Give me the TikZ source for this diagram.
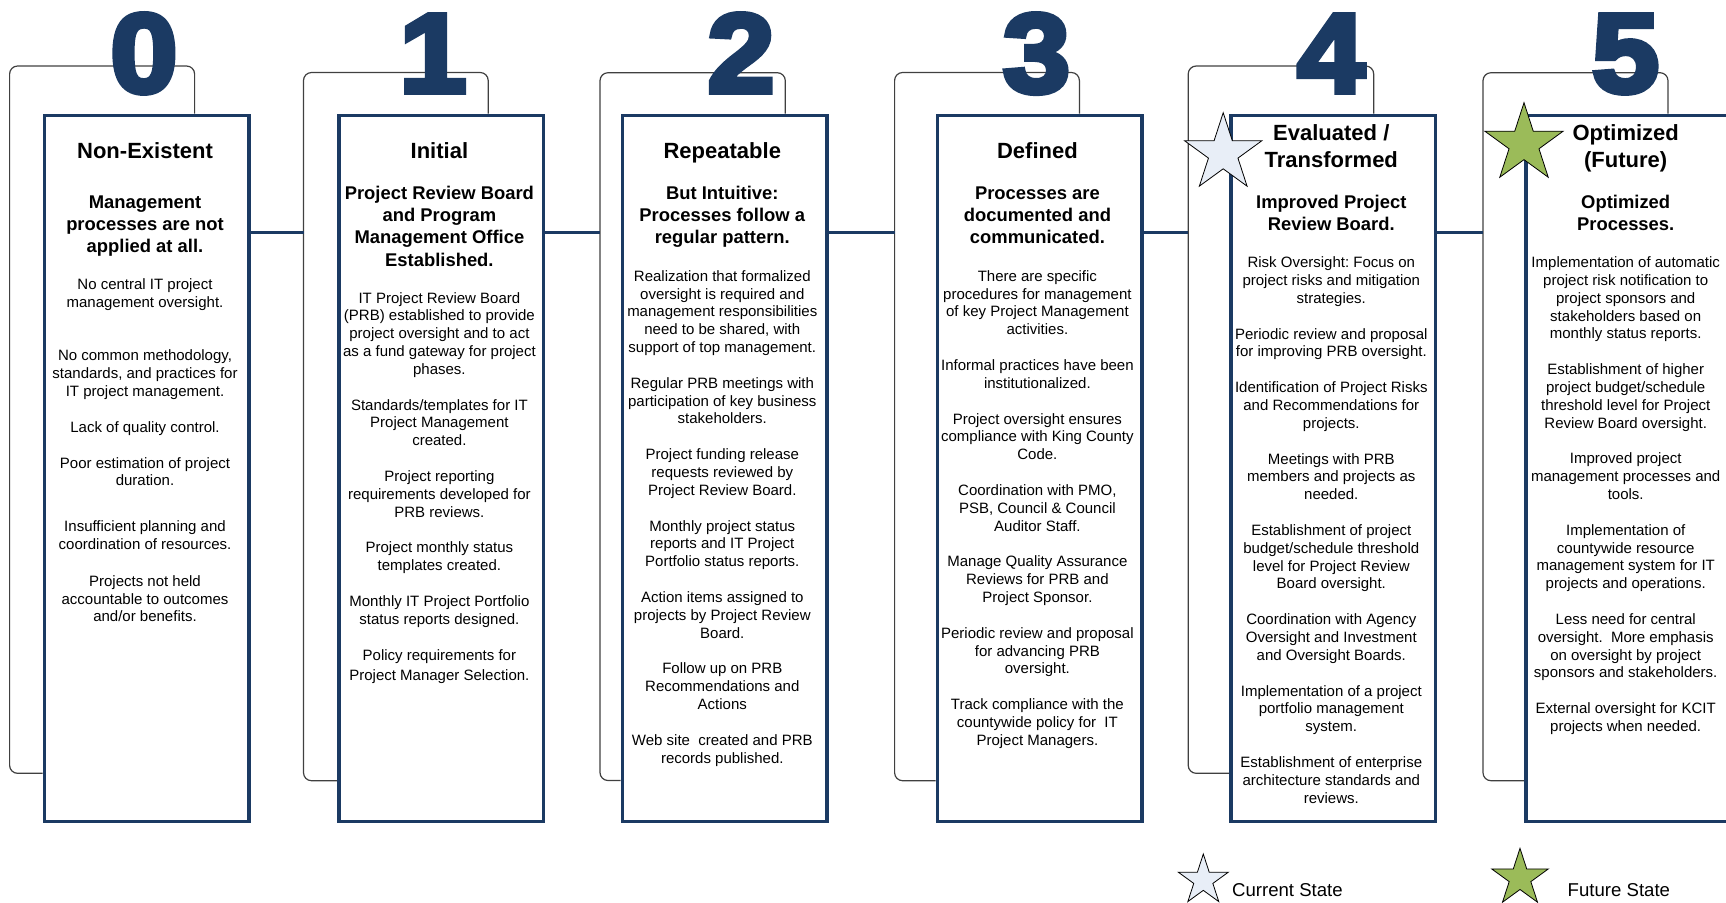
\documentclass[tikz,border=0pt]{standalone}
\usepackage{fontspec}
\setmainfont{Liberation Sans}
\newfontfamily\digitfont[FakeBold=5,FakeStretch=1.08]{Liberation Sans}
\usetikzlibrary{shapes.geometric}
\frenchspacing

\definecolor{navy}{RGB}{27,58,99}
\definecolor{starblue}{RGB}{232,238,247}
\definecolor{stargreen}{RGB}{155,187,89}
\definecolor{bracketgray}{RGB}{64,64,64}

\begin{document}
\begin{tikzpicture}[x=0.5pt,y=-0.5pt]

    % Styles
    \tikzstyle{stagebox} = [rectangle, anchor=north west, inner sep=0pt, minimum width=102.4pt, minimum height=353.2pt, draw=navy, line width=1.65pt, fill=white]
    \tikzstyle{bracket} = [draw=bracketgray, line width=0.6pt, rounded corners=4pt]
    \tikzstyle{link} = [draw=navy, line width=1.65pt]
    \tikzstyle{levelnum} = [anchor=base, inner sep=0pt, text=navy, font=\digitfont\bfseries\fontsize{56}{56}\selectfont]
    \tikzstyle{stagetitle} = [anchor=north, align=center, inner sep=0pt, font=\bfseries\fontsize{11}{13.5}\selectfont]
    \tikzstyle{stagesub} = [anchor=north, align=center, inner sep=0pt, font=\bfseries\fontsize{9.2}{11.2}\selectfont]
    \tikzstyle{stagetext} = [anchor=north, align=center, inner sep=0pt, font=\fontsize{7.5}{8.9}\selectfont]
    \tikzstyle{nowstar} = [star, star points=5, star point ratio=2.618, inner sep=0pt, draw=black, line width=0.4pt, fill=starblue]
    \tikzstyle{nextstar} = [star, star points=5, star point ratio=2.618, inner sep=0pt, draw=black, line width=0.4pt, fill=stargreen]
    \tikzstyle{legendtext} = [anchor=base west, inner sep=0pt, font=\fontsize{9.3}{11}\selectfont]

    \useasboundingbox (0,0) rectangle (1726,902);
    \clip (0,0) rectangle (1726,902);

    % Brackets
    \draw [bracket] (42.6,773.3) -| (9.6,66) -| (194.6,113.6);
    \draw [bracket] (337.2,780.7) -| (303.5,72.5) -| (488.2,113.6);
    \draw [bracket] (620.6,780.5) -| (600,72.7) -| (785.3,113.6);
    \draw [bracket] (935.6,780.7) -| (894.6,72.5) -| (1079.4,113.6);
    \draw [bracket] (1229.2,773.3) -| (1188.2,66) -| (1373.7,113.6);
    \draw [bracket] (1524.3,780.7) -| (1483,72.7) -| (1668,113.6);

    % Boxes
    \node (box0) [stagebox] at (42.6,113.6) {};
    \node (box1) [stagebox] at (337.2,113.6) {};
    \node (box2) [stagebox] at (620.6,113.6) {};
    \node (box3) [stagebox] at (935.6,113.6) {};
    \node (box4) [stagebox] at (1229.2,113.6) {};
    \node (box5) [stagebox] at (1524.3,113.6) {};

    % Links
    \coordinate (in1) at (303.5,232.7);
    \coordinate (in2) at (600,232.7);
    \coordinate (in3) at (894.6,232.7);
    \coordinate (in4) at (1188.2,232.7);
    \coordinate (in5) at (1483,232.7);
    \draw [link] (box0.east |- in1) -- (in1);
    \draw [link] (box1.east |- in2) -- (in2);
    \draw [link] (box2.east |- in3) -- (in3);
    \draw [link] (box3.east |- in4) -- (in4);
    \draw [link] (box4.east |- in5) -- (in5);

    % Levels
    \node (lvl0) [levelnum] at (144,92) {0};
    \node (lvl1) [levelnum] at (433,92) {1};
    \node (lvl2) [levelnum] at (741,92) {2};
    \node (lvl3) [levelnum] at (1036.5,92) {3};
    \node (lvl4) [levelnum] at (1331,92) {4};
    \node (lvl5) [levelnum] at (1625.5,92) {5};

    % Level 0
    \node (title0) [stagetitle] at (145,139.1) {\strut Non-Existent};
    \node (sub0) [stagesub] at (145,192.1) {\strut Management\\ processes are not\\ applied at all.};
    \node (text0) [stagetext] at (145,276.5) {\strut No central IT project\\
        management oversight.\\[17.75pt]
        No common methodology,\\
        standards, and practices for\\
        IT project management.\\[9.1pt]
        Lack of quality control.\\[9.1pt]
        Poor estimation of project\\
        duration.\\[13.9pt]
        Insufficient planning and\\
        coordination of resources.\\[9.6pt]
        Projects not held\\
        accountable to outcomes\\
        and/or benefits.};

    % Level 1
    \node (title1) [stagetitle] at (439.4,139.1) {\strut Initial};
    \node (sub1) [stagesub] at (439.4,183.1) {\strut Project Review Board\\ and Program\\ Management Office\\ Established.};
    \node (text1) [stagetext] at (439.4,290.2) {\strut IT Project Review Board\\
        (PRB) established to provide\\
        project oversight and to act\\
        as a fund gateway for project\\
        phases.\\[9pt]
        Standards/templates for IT\\
        Project Management\\
        created.\\[9pt]
        Project reporting\\
        requirements developed for\\
        PRB reviews.\\[9pt]
        Project monthly status\\
        templates created.\\[9pt]
        Monthly IT Project Portfolio\\
        status reports designed.\\[9pt]
        Policy requirements for\\[1.5pt]
        Project Manager Selection.};

    % Level 2
    \node (title2) [stagetitle] at (722.3,139.1) {\strut Repeatable};
    \node (sub2) [stagesub] at (722.3,183.1) {\strut But Intuitive:\\ Processes follow a\\ regular pattern.};
    \node (text2) [stagetext] at (722.3,268.5) {\strut Realization that formalized\\
        oversight is required and\\
        management responsibilities\\
        need to be shared, with\\
        support of top management.\\[9pt]
        Regular PRB meetings with\\
        participation of key business\\
        stakeholders.\\[9pt]
        Project funding release\\
        requests reviewed by\\
        Project Review Board.\\[9pt]
        Monthly project status\\
        reports and IT Project\\
        Portfolio status reports.\\[9pt]
        Action items assigned to\\
        projects by Project Review\\
        Board.\\[9pt]
        Follow up on PRB\\
        Recommendations and\\
        Actions\\[9pt]
        Web site\ \ created and PRB\\
        records published.};

    % Level 3
    \node (title3) [stagetitle] at (1037.4,139.1) {\strut Defined};
    \node (sub3) [stagesub] at (1037.4,183.1) {\strut Processes are\\ documented and\\ communicated.};
    \node (text3) [stagetext] at (1037.4,268.5) {\strut There are specific\\
        procedures for management\\
        of key Project Management\\
        activities.\\[9pt]
        Informal practices have been\\
        institutionalized.\\[9pt]
        Project oversight ensures\\
        compliance with King County\\
        Code.\\[9pt]
        Coordination with PMO,\\
        PSB, Council \& Council\\
        Auditor Staff.\\[9pt]
        Manage Quality Assurance\\
        Reviews for PRB and\\
        Project Sponsor.\\[9pt]
        Periodic review and proposal\\
        for advancing PRB\\
        oversight.\\[9pt]
        Track compliance with the\\
        countywide policy for\ \ IT\\
        Project Managers.};

    % Level 4
    \node (title4) [stagetitle] at (1331.3,120.7) {\strut Evaluated /\\ Transformed};
    \node (sub4) [stagesub] at (1331.3,192.1) {\strut Improved Project\\ Review Board.};
    \node (text4) [stagetext] at (1331.3,254.8) {\strut Risk Oversight: Focus on\\
        project risks and mitigation\\
        strategies.\\[9pt]
        Periodic review and proposal\\
        for improving PRB oversight.\\[9pt]
        Identification of Project Risks\\
        and Recommendations for\\
        projects.\\[9pt]
        Meetings with PRB\\
        members and projects as\\
        needed.\\[9pt]
        Establishment of project\\
        budget/schedule threshold\\
        level for Project Review\\
        Board oversight.\\[9pt]
        Coordination with Agency\\
        Oversight and Investment\\
        and Oversight Boards.\\[9pt]
        Implementation of a project\\
        portfolio management\\
        system.\\[9pt]
        Establishment of enterprise\\
        architecture standards and\\
        reviews.};

    % Level 5
    \node (title5) [stagetitle] at (1625.7,120.7) {\strut Optimized\\ (Future)};
    \node (sub5) [stagesub] at (1625.7,192.1) {\strut Optimized\\ Processes.};
    \node (text5) [stagetext] at (1625.7,254.8) {\strut Implementation of automatic\\
        project risk notification to\\
        project sponsors and\\
        stakeholders based on\\
        monthly status reports.\\[9pt]
        Establishment of higher\\
        project budget/schedule\\
        threshold level for Project\\
        Review Board oversight.\\[9pt]
        Improved project\\
        management processes and\\
        tools.\\[9pt]
        Implementation of\\
        countywide resource\\
        management system for IT\\
        projects and operations.\\[9pt]
        Less need for central\\
        oversight.\ \ More emphasis\\
        on oversight by project\\
        sponsors and stakeholders.\\[9pt]
        External oversight for KCIT\\
        projects when needed.};

    % Stars
    \node (now) [nowstar, minimum size=40.6pt] at (1223.2,153.3) {};
    \node (next) [nextstar, minimum size=41.2pt] at (1524,143.9) {};

    % Legend
    \node (nowkey) [nowstar, minimum size=26.3pt] at (1203.3,880.3) {};
    \node (nowlabel) [legendtext] at (1231.7,896) {Current State};
    \node (nextkey) [nextstar, minimum size=29.8pt] at (1520,878.1) {};
    \node (nextlabel) [legendtext] at (1567.3,896) {Future State};

\end{tikzpicture}
\end{document}
